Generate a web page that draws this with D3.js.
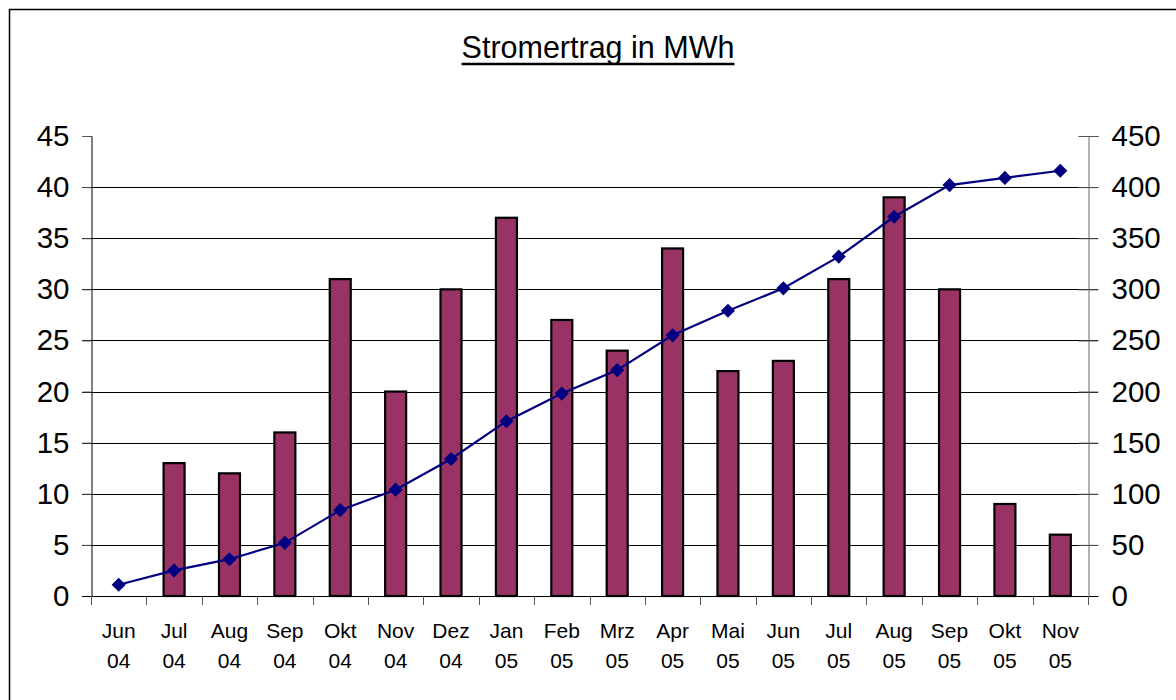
<!DOCTYPE html>
<html>
<head>
<meta charset="utf-8">
<script src="https://cdn.jsdelivr.net/npm/d3@7"></script>
<style>
  html, body { margin: 0; padding: 0; background: #fff; }
  svg { display: block; font-family: "Liberation Sans", Arial, sans-serif; }
</style>
</head>
<body>
<svg id="chart" width="1176" height="700"></svg>
<script>
// ---- data ----
const monthLabels = ["Jun", "Jul", "Aug", "Sep", "Okt", "Nov", "Dez", "Jan", "Feb", "Mrz", "Apr", "Mai", "Jun", "Jul", "Aug", "Sep", "Okt", "Nov"];
const yearLabels  = ["04", "04", "04", "04", "04", "04", "04", "05", "05", "05", "05", "05", "05", "05", "05", "05", "05", "05"];
const monthlyMWh  = [null, 13, 12, 16, 31, 20, 30, 37, 27, 24, 34, 22, 23, 31, 39, 30, 9, 6];
const cumulativeMWh = [11, 25, 36, 52, 84, 104, 134, 171, 198, 221, 255, 279, 301, 332, 371, 402, 409, 416];
const leftTicks  = [0, 5, 10, 15, 20, 25, 30, 35, 40, 45];
const rightTicks = [0, 50, 100, 150, 200, 250, 300, 350, 400, 450];
const titleText = "Stromertrag in MWh";

// ---- layout ----
const svg = d3.select("#chart");
const plot = { left: 91, right: 1088, top: 136, bottom: 596 };
const idx = monthLabels.map((d, i) => i);

const x = d3.scaleBand().domain(idx).range([plot.left, plot.right]).paddingInner(0).paddingOuter(0);
const yL = d3.scaleLinear().domain([0, 45]).range([plot.bottom, plot.top]);
const yR = d3.scaleLinear().domain([0, 450]).range([plot.bottom, plot.top]);

// outer border (right/bottom edges fall outside the view)
svg.append("rect")
  .attr("x", 9.5).attr("y", 9.5)
  .attr("width", 1200).attr("height", 720)
  .attr("fill", "none").attr("stroke", "#000").attr("stroke-width", 1.5);

// title
const title = svg.append("text")
  .attr("x", 598).attr("y", 58)
  .attr("text-anchor", "middle")
  .attr("font-size", 30.5)
  .attr("fill", "#000")
  .text(titleText);
const tb = title.node().getBBox();
svg.append("line")
  .attr("x1", tb.x).attr("x2", tb.x + tb.width)
  .attr("y1", 64).attr("y2", 64)
  .attr("stroke", "#000").attr("stroke-width", 2.5);

// gridlines (left axis ticks, extending across)
svg.append("g").selectAll("line")
  .data(leftTicks.filter(d => d > 0 && d < 45))
  .join("line")
  .attr("x1", plot.left - 9).attr("x2", plot.right + 10)
  .attr("y1", d => Math.round(yL(d)) + 0.5).attr("y2", d => Math.round(yL(d)) + 0.5)
  .attr("stroke", "#000").attr("stroke-width", 1);

// left axis
const leftAxis = d3.axisLeft(yL).tickValues(leftTicks).tickSize(9).tickPadding(13).tickFormat(d3.format("d"));
const gL = svg.append("g").attr("transform", `translate(${plot.left + 0.5},0)`).call(leftAxis);
gL.select(".domain").attr("stroke", "#000").attr("stroke-width", 1);
gL.selectAll(".tick line").attr("stroke", "#555");
gL.selectAll(".tick text").attr("font-size", 29.5).attr("fill", "#000").attr("font-family", "Liberation Sans, Arial, sans-serif");

// right axis
const rightAxis = d3.axisRight(yR).tickValues(rightTicks).tickSize(10).tickPadding(13).tickFormat(d3.format("d"));
const gR = svg.append("g").attr("transform", `translate(${plot.right + 0.5},0)`).call(rightAxis);
gR.select(".domain").attr("stroke", "#666").attr("stroke-width", 1);
gR.selectAll(".tick line").attr("stroke", "#555").attr("x1", -10);
gR.selectAll(".tick text").attr("font-size", 29.5).attr("fill", "#000").attr("font-family", "Liberation Sans, Arial, sans-serif");

// x axis baseline and boundary ticks
svg.append("line")
  .attr("x1", plot.left - 9).attr("x2", plot.right + 10)
  .attr("y1", plot.bottom + 0.5).attr("y2", plot.bottom + 0.5)
  .attr("stroke", "#000").attr("stroke-width", 1);
const boundaries = idx.map(i => x(i)).concat([x(idx[idx.length - 1]) + x.bandwidth()]);
svg.append("g").selectAll("line")
  .data(boundaries)
  .join("line")
  .attr("x1", d => Math.round(d) + 0.5).attr("x2", d => Math.round(d) + 0.5)
  .attr("y1", plot.bottom).attr("y2", plot.bottom + 9)
  .attr("stroke", "#555").attr("stroke-width", 1);

// x labels
const xl = svg.append("g").selectAll("text")
  .data(idx)
  .join("text")
  .attr("text-anchor", "middle")
  .attr("font-size", 21)
  .attr("fill", "#000");
xl.append("tspan").attr("x", i => x(i) + x.bandwidth() / 2).attr("y", 638).text(i => monthLabels[i]);
xl.append("tspan").attr("x", i => x(i) + x.bandwidth() / 2).attr("y", 668).text(i => yearLabels[i]);

// bars
const barW = 21;
svg.append("g").selectAll("rect")
  .data(idx.filter(i => monthlyMWh[i] != null))
  .join("rect")
  .attr("x", i => x(i) + x.bandwidth() / 2 - barW / 2)
  .attr("y", i => yL(monthlyMWh[i]))
  .attr("width", barW)
  .attr("height", i => yL(0) - yL(monthlyMWh[i]))
  .attr("fill", "#993366")
  .attr("stroke", "#000")
  .attr("stroke-width", 2.2);

// cumulative line
const line = d3.line()
  .x(i => x(i) + x.bandwidth() / 2)
  .y(i => yR(cumulativeMWh[i]));
svg.append("path")
  .datum(idx)
  .attr("d", line)
  .attr("fill", "none")
  .attr("stroke", "#000080")
  .attr("stroke-width", 2.2);

// diamond markers
svg.append("g").selectAll("path")
  .data(idx)
  .join("path")
  .attr("d", d3.symbol().type(d3.symbolSquare).size(100))
  .attr("transform", i => `translate(${x(i) + x.bandwidth() / 2},${yR(cumulativeMWh[i])}) rotate(45)`)
  .attr("fill", "#000080");
</script>
</body>
</html>
